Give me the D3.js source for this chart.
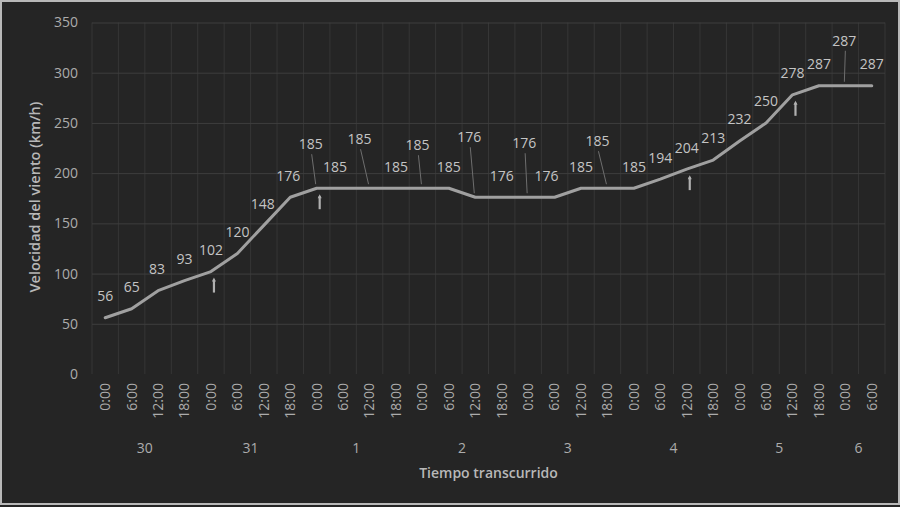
<!DOCTYPE html>
<html>
<head>
<meta charset="utf-8">
<script src="https://cdn.jsdelivr.net/npm/d3@7"></script>
<style>
  html, body { margin: 0; padding: 0; background: #252525; }
  svg { display: block; }
  text { font-family: "Open Sans", "Noto Sans", sans-serif; }
</style>
</head>
<body>
<svg id="chart" width="900" height="507"></svg>
<script>
// Wind speed readings, every six hours
const days = ["30", "31", "1", "2", "3", "4", "5", "6"];
const hours = ["0:00", "6:00", "12:00", "18:00"];
const readingsPerDay = [4, 4, 4, 4, 4, 4, 4, 2];
const speeds = [56, 65, 83, 93, 102, 120, 148, 176,
                185, 185, 185, 185, 185, 185, 176, 176,
                176, 176, 185, 185, 185, 194, 204, 213,
                232, 250, 278, 287, 287, 287];
const yTicks = [0, 50, 100, 150, 200, 250, 300, 350];
// readings whose label sits higher, joined to the line by a leader
const raisedLabels = [8, 10, 12, 14, 16, 19, 28];
// readings flagged with a small upward arrow
const flagged = [4, 8, 22, 26];

// build category list: one entry per reading
const cats = [];
days.forEach((d, di) => {
  for (let h = 0; h < readingsPerDay[di]; h++) {
    cats.push({ day: d, dayIndex: di, hour: hours[h], key: d + "|" + hours[h] });
  }
});
const data = cats.map((c, i) => ({ ...c, value: speeds[i], i }));

const svg = d3.select("#chart");
const W = 900, H = 507;
const margin = { left: 92, right: 15, top: 22.5, bottom: 133 };
const plotW = W - margin.left - margin.right;
const plotH = H - margin.top - margin.bottom;
const textCol = "#acacac";

// frame
svg.append("rect").attr("x", 1).attr("y", 1).attr("width", W - 2).attr("height", H - 4)
  .attr("fill", "#252525").attr("stroke", "#b8b8b8").attr("stroke-width", 2);

const g = svg.append("g").attr("transform", `translate(${margin.left},${margin.top})`);

const x = d3.scaleBand().domain(cats.map(c => c.key)).range([0, plotW]).padding(0);
const y = d3.scaleLinear().domain([0, 350]).range([plotH, 0]);
const cx = d => x(d.key) + x.bandwidth() / 2;

// vertical gridlines at category boundaries
const bounds = cats.map(c => x(c.key)).concat([plotW]);
g.append("g").selectAll("line").data(bounds).join("line")
  .attr("x1", d => d).attr("x2", d => d)
  .attr("y1", 0).attr("y2", plotH)
  .attr("stroke", "#363636").attr("stroke-width", 1);

// horizontal gridlines + y labels
const yAxis = d3.axisLeft(y).tickValues(yTicks).tickSize(-plotW).tickPadding(14);
const ya = g.append("g").call(yAxis);
ya.select(".domain").remove();
ya.selectAll(".tick line").attr("stroke", d => d === 0 ? "none" : "#3e3e3e");
ya.selectAll(".tick text").attr("fill", textCol).style("font-size", "14px")
  .style("font-family", "'Open Sans', sans-serif");

// hour labels (rotated)
const xa = g.append("g").attr("transform", `translate(0,${plotH})`)
  .call(d3.axisBottom(x).tickSize(0).tickFormat(k => k.split("|")[1]));
xa.select(".domain").remove();
xa.selectAll(".tick text")
  .attr("transform", "rotate(-90)")
  .attr("x", -9).attr("y", 0).attr("dy", "0.35em")
  .style("text-anchor", "end")
  .attr("fill", textCol).style("font-size", "14px")
  .style("font-family", "'Open Sans', sans-serif");

// day labels, centred under each day's readings
const dayG = g.append("g");
days.forEach((d, di) => {
  const members = data.filter(p => p.dayIndex === di);
  const x0 = x(members[0].key), x1 = x(members[members.length - 1].key) + x.bandwidth();
  dayG.append("text").attr("x", (x0 + x1) / 2).attr("y", plotH + 74)
    .attr("dy", "0.35em")
    .attr("text-anchor", "middle").attr("fill", textCol).style("font-size", "14px")
    .text(d);
});

// axis titles
svg.append("text").attr("x", margin.left + plotW / 2).attr("y", 473).attr("dy", "0.35em")
  .attr("text-anchor", "middle").attr("fill", "#b8b8b8")
  .style("font-size", "14px").style("font-weight", "600")
  .text("Tiempo transcurrido");
svg.append("text").attr("transform", "translate(35,197) rotate(-90)").attr("dy", "0.35em")
  .attr("text-anchor", "middle").attr("fill", "#b8b8b8")
  .style("font-size", "14.5px").style("font-weight", "600")
  .text("Velocidad del viento (km/h)");

// the series line
const line = d3.line().x(cx).y(d => y(d.value));
g.append("path").datum(data).attr("d", line)
  .attr("fill", "none").attr("stroke", "#a0a0a0").attr("stroke-width", 3)
  .attr("stroke-linejoin", "round").attr("stroke-linecap", "round");

// label placement offsets
const labelDx = { 9: -8, 17: -8, 8: -6, 10: -10, 12: -5, 14: -6, 16: -4, 19: -10, 28: -1, 2: -1, 6: -1, 7: -2 };
const labelDy = { 8: -44, 10: -49, 12: -43, 14: -60, 16: -54, 19: -47, 28: -45 };

const labels = g.append("g");
data.forEach(d => {
  const px = cx(d), py = y(d.value);
  const lx = px + (labelDx[d.i] || 0);
  const ly = py + (labelDy[d.i] !== undefined ? labelDy[d.i] : -21.5);
  if (raisedLabels.includes(d.i)) {
    labels.append("line")
      .attr("x1", lx + 1).attr("y1", ly + 10)
      .attr("x2", px - 1).attr("y2", py - 4)
      .attr("stroke", "#6e6e6e").attr("stroke-width", 1);
  }
  labels.append("text").attr("x", lx).attr("y", ly).attr("dy", "0.35em")
    .attr("text-anchor", "middle").attr("fill", "#c4c4c4").style("font-size", "14px")
    .text(d.value);
});

// small upward arrows beneath flagged readings
const arrows = g.append("g");
flagged.forEach(i => {
  const d = data[i];
  const px = cx(d) + 3, py = y(d.value);
  arrows.append("line").attr("x1", px).attr("x2", px)
    .attr("y1", py + 8).attr("y2", py + 21)
    .attr("stroke", "#b0b0b0").attr("stroke-width", 2.2);
  arrows.append("path")
    .attr("d", `M${px - 2},${py + 10} L${px},${py + 6} L${px + 2},${py + 10} Z`)
    .attr("fill", "#b0b0b0");
});
</script>
</body>
</html>
